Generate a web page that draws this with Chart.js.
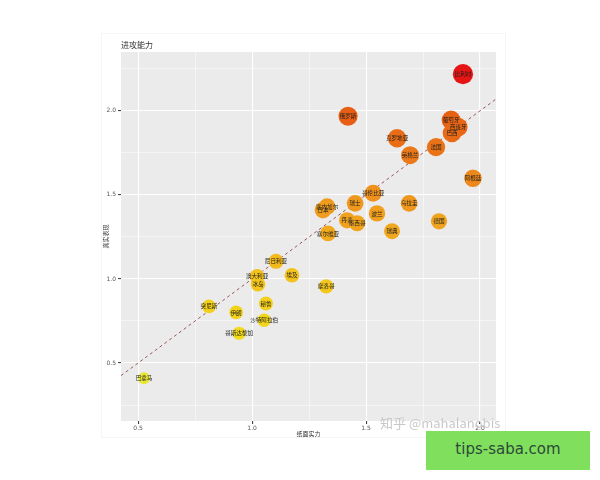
<!DOCTYPE html>
<html><head><meta charset="utf-8">
<script src="https://cdn.jsdelivr.net/npm/chart.js@4/dist/chart.umd.min.js"></script>
<style>
html,body{margin:0;padding:0;background:#fff;}
#wrap{position:relative;width:600px;height:480px;overflow:hidden;}
#frame{position:absolute;left:101px;top:33px;width:405px;height:405px;border:1px solid #f5f5f5;box-sizing:border-box;}
canvas{position:absolute;left:0;top:0;}
.t{position:absolute;font-family:"Noto Sans CJK SC",sans-serif;white-space:nowrap;}
#title{left:121px;top:39px;font-size:8px;color:#333;}
#wm{left:380px;top:413px;font-size:13px;color:#c8c8c8;font-family:"Noto Sans CJK SC","DejaVu Sans",sans-serif;}
#green{position:absolute;left:426px;top:431px;width:164px;height:39px;background:#80df5c;}
#green span{position:absolute;left:0;right:0;top:9px;text-align:center;font-family:"DejaVu Sans",sans-serif;font-size:15px;color:#2c4a3a;}
</style></head>
<body><div id="wrap">
<div id="frame"></div>
<canvas id="c" width="600" height="480"></canvas>
<div class="t" id="title">进攻能力</div>
<div class="t" id="wm">知乎 @mahalanobis</div>
<div id="green"><span>tips-saba.com</span></div>
</div>
<script>
const teams = ['巴拿马','哥斯达黎加','突尼斯','伊朗','沙特阿拉伯','秘鲁','澳大利亚','冰岛','尼日利亚','埃及','摩洛哥','塞尔维亚','丹麦','墨西哥','塞内加尔','日本','瑞士','哥伦比亚','波兰','瑞典','乌拉圭','德国','阿根廷','比利时','俄罗斯','克罗地亚','英格兰','法国','葡萄牙','西班牙','巴西'];
const paperStrength = [0.526,0.943,0.811,0.930,1.053,1.061,1.022,1.026,1.105,1.175,1.325,1.333,1.417,1.461,1.329,1.311,1.452,1.531,1.548,1.614,1.689,1.820,1.969,1.925,1.421,1.636,1.693,1.807,1.873,1.904,1.877];
const realPerformance = [0.409,0.677,0.837,0.801,0.754,0.854,1.016,0.968,1.105,1.022,0.956,1.271,1.349,1.331,1.430,1.409,1.450,1.510,1.390,1.284,1.450,1.343,1.599,2.218,1.968,1.837,1.736,1.784,1.945,1.903,1.868];
const xTicks = [0.5,0.75,1.0,1.25,1.5,1.75,2.0];
const yTicks = [0.25,0.5,0.75,1.0,1.25,1.5,1.75,2.0,2.25];
const majorTickLabels = {'0.5':'0.5','1':'1.0','1.5':'1.5','2':'2.0'};
const xRange = [0.425, 2.07];
const yRange = [0.155, 2.35];
const refLine = [0.425, 2.07];

const stops = [[0.40,[232,230,55]],[0.70,[243,218,25]],[1.00,[244,196,28]],[1.35,[240,162,30]],[1.60,[238,136,28]],[1.85,[233,108,22]],[2.00,[230,90,20]],[2.22,[228,20,20]]];
function colorFor(v){
  if(v<=stops[0][0]) return 'rgb('+stops[0][1].join(',')+')';
  for(let i=1;i<stops.length;i++){
    if(v<=stops[i][0]){
      const a=stops[i-1],b=stops[i],t=(v-a[0])/(b[0]-a[0]);
      const c=a[1].map((x,k)=>Math.round(x+(b[1][k]-x)*t));
      return 'rgb('+c.join(',')+')';
    }
  }
  return 'rgb('+stops[stops.length-1][1].join(',')+')';
}
function radiusFor(v){return 5+2.3*v;}

const points = teams.map((t,i)=>({x:paperStrength[i],y:realPerformance[i],r:radiusFor(realPerformance[i])}));

const bgPlugin={id:'bg',beforeDraw(ch){const a=ch.chartArea,ctx=ch.ctx;ctx.save();ctx.fillStyle='#ebebeb';ctx.fillRect(a.left,a.top,a.right-a.left,a.bottom-a.top);ctx.restore();}};
const labelPlugin={id:'lbl',afterDatasetsDraw(ch){
  const ctx=ch.ctx;const meta=ch.getDatasetMeta(1);
  ctx.save();ctx.font='5.6px "Noto Sans CJK SC"';ctx.fillStyle='#1e1e1e';ctx.textAlign='center';ctx.textBaseline='middle';
  meta.data.forEach((el,i)=>{ctx.fillText(teams[i],el.x,el.y);});
  ctx.restore();
}};

function isMajor(v){return majorTickLabels[String(+v.toFixed(2))]!==undefined;}
function gridColor(c){return '#ffffff';}
function gridWidth(c){return c.tick && isMajor(c.tick.value)?1.1:0.5;}
function tickCol(c){return c.tick && isMajor(c.tick.value)?'#444':'rgba(0,0,0,0)';}

new Chart(document.getElementById('c'),{
  type:'bubble',
  data:{datasets:[
    {type:'line',data:refLine.map(v=>({x:v,y:v})),borderColor:'#9a5858',borderWidth:1,borderDash:[3,3],pointRadius:0,fill:false,order:2},
    {data:points,backgroundColor:realPerformance.map(colorFor),borderWidth:0,order:1}
  ]},
  options:{
    responsive:false,animation:false,
    layout:{padding:{left:100,top:52,right:104,bottom:42}},
    plugins:{legend:{display:false},tooltip:{enabled:false}},
    scales:{
      x:{type:'linear',min:xRange[0],max:xRange[1],
        afterBuildTicks:s=>{s.ticks=xTicks.map(v=>({value:v}));},
        afterFit:s=>{s.height=17;},
        border:{display:false},
        grid:{color:gridColor,lineWidth:gridWidth,tickColor:tickCol,tickLength:3},
        ticks:{font:{size:6,family:'DejaVu Sans'},color:'#555',padding:1,maxRotation:0,autoSkip:false,callback:v=>majorTickLabels[String(+(+v).toFixed(2))]||''},
        title:{display:true,text:'纸面实力',font:{size:6,family:'Noto Sans CJK SC'},color:'#333',padding:{top:0,bottom:1}}
      },
      y:{type:'linear',min:yRange[0],max:yRange[1],
        afterBuildTicks:s=>{s.ticks=yTicks.map(v=>({value:v}));},
        afterFit:s=>{s.width=21;},
        border:{display:false},
        grid:{color:gridColor,lineWidth:gridWidth,tickColor:tickCol,tickLength:3},
        ticks:{font:{size:6,family:'DejaVu Sans'},color:'#555',padding:2,autoSkip:false,callback:v=>majorTickLabels[String(+(+v).toFixed(2))]||''},
        title:{display:true,text:'真实表现',font:{size:6,family:'Noto Sans CJK SC'},color:'#333',padding:{top:2,bottom:0}}
      }
    }
  },
  plugins:[bgPlugin,labelPlugin]
});
</script>
</body></html>
